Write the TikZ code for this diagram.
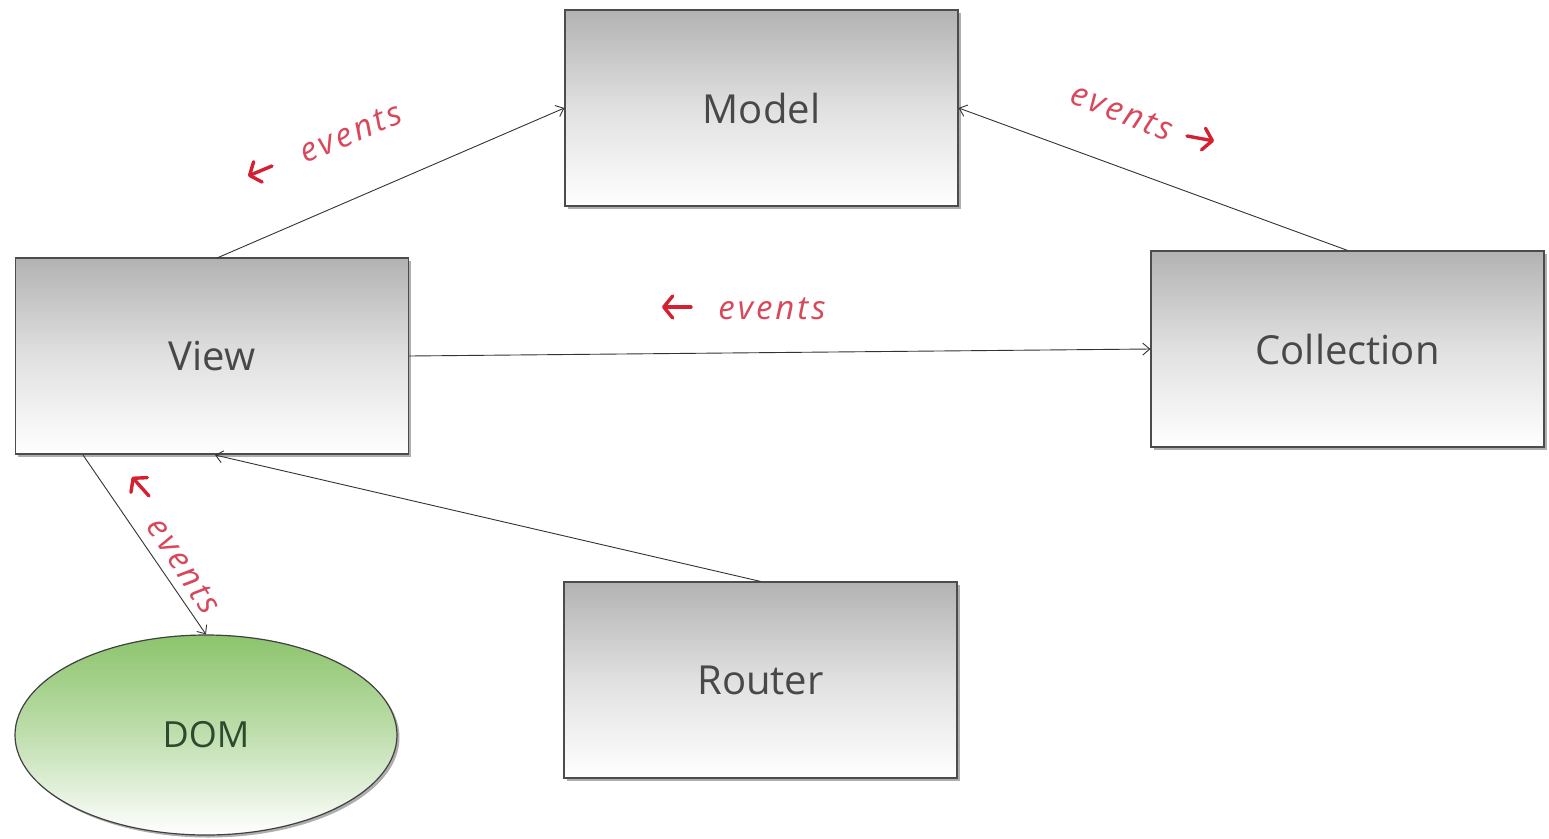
\documentclass[tikz,border=0pt]{standalone}
\usepackage{fontspec}
\setmainfont{Open Sans}
\usetikzlibrary{arrows.meta,shapes.geometric,shadows}
\definecolor{evred}{HTML}{D9475A}
\definecolor{arrred}{HTML}{D42030}
\definecolor{boxtxt}{HTML}{484848}
\definecolor{domgreen}{HTML}{8CC46C}
\definecolor{domtxt}{HTML}{2E4A2E}
\tikzset{
  box/.style={draw=black!70, line width=1.2pt, minimum width=393pt, minimum height=196pt,
    inner sep=0pt, top color=black!30, bottom color=white, middle color=black!12,
    drop shadow={shadow xshift=2.5pt, shadow yshift=-2.5pt, fill=black!45, opacity=0.7},
    font=\fontsize{40}{42}\selectfont, text=boxtxt},
  domnode/.style={draw=black!75, line width=1.2pt, ellipse, minimum width=382pt, minimum height=200pt,
    inner sep=0pt, top color=domgreen, bottom color=white, middle color=domgreen!55,
    drop shadow={shadow xshift=2.5pt, shadow yshift=-2.5pt, fill=black!45, opacity=0.7},
    font=\fontsize{36}{38}\selectfont, text=domtxt},
  conn/.style={draw=black!80, line width=0.9pt, -{Straight Barb[length=7pt,width=12pt,line width=0.9pt]}},
  evlabel/.style={text=evred, font=\fontsize{33}{35}\selectfont\itshape\addfontfeatures{LetterSpace=9}, inner sep=0pt},
  evarrow/.style={draw=arrred, line width=3.4pt, line cap=round,
    -{Straight Barb[length=9pt,width=22pt,line width=3.4pt,round]}},
}
\begin{document}
\begin{tikzpicture}[x=1pt,y=-1pt]
\useasboundingbox (0,0) rectangle (1549,838);
\fill[white] (0,0) rectangle (1549,838);

\node[box] (model) at (761.5,108) {Model};
\node[box] (view) at (212,356) {View};
\node[box] (coll) at (1347.5,349) {Collection};
\node[box] (router) at (760.5,680) {Router};
\node[domnode] (dom) at (206,735) {DOM};

\coordinate (vtop) at (217,258);
\coordinate (vbl) at (83,455);
\coordinate (vbm) at (215,455);

\draw[conn] (vtop) -- (model.west);
\draw[conn] (coll.north) -- (model.east);
\draw[conn] (view.east) -- (coll.west);
\draw[conn] (router.north) -- (vbm);
\draw[conn] (vbl) -- (dom.north);

% labels
\node[evlabel, rotate=23] (l1) at (351,133) {events};
\coordinate (a1s) at (272,166); \coordinate (a1e) at (248,176);
\draw[evarrow] (a1s) -- (a1e);

\node[evlabel, rotate=-21] (l2) at (1122,112) {events};
\coordinate (a2s) at (1187,136); \coordinate (a2e) at (1214,141);
\draw[evarrow] (a2s) -- (a2e);

\node[evlabel] (l3) at (772,309) {events};
\coordinate (a3s) at (691,307); \coordinate (a3e) at (662,307);
\draw[evarrow] (a3s) -- (a3e);

\node[evlabel, rotate=-57] (l4) at (184,566) {events};
\coordinate (a4s) at (149,496); \coordinate (a4e) at (132,477);
\draw[evarrow] (a4s) -- (a4e);
\end{tikzpicture}
\end{document}
